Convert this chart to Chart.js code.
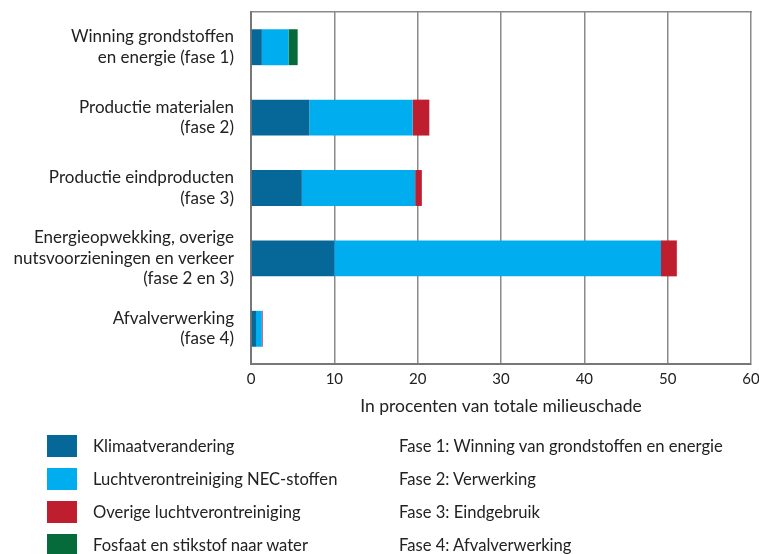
<html>
	<head>
		<meta charset="UTF-8">
		<title> Milieuschade per fase </title>
		<script src="https://cdn.jsdelivr.net/npm/chart.js@4/dist/chart.umd.min.js"></script>
		<style>
			body { margin:0; background:#fff; font-family:Lato, sans-serif; color:#222; }
			#wrap { position:relative; width:759px; height:554px; }
			#barChart { position:absolute; left:0; top:0; }
			#legend div { position:absolute; font-size:16.6px; line-height:22px; white-space:nowrap; }
			#legend span { position:absolute; left:0; top:0; width:30px; height:22px; }
		</style>
	</head>

	<body>
		<div id="wrap">
			<canvas id="barChart" width="759" height="554"></canvas>
			<div id="legend"></div>
		</div>

		<script>
			// categories (y axis), top to bottom
			var categories = [
				["Winning grondstoffen", "en energie (fase 1)"],
				["Productie materialen", "(fase 2)"],
				["Productie eindproducten", "(fase 3)"],
				["Energieopwekking, overige", "nutsvoorzieningen en verkeer", "(fase 2 en 3)"],
				["Afvalverwerking", "(fase 4)"]
			];

			// series values, percent of total environmental damage
			var klimaat = [1.3, 7.0, 6.1, 10.0, 0.6];
			var luchtNec = [3.2, 12.4, 13.6, 39.2, 0.7];
			var overigLucht = [0, 2.0, 0.8, 1.9, 0.1];
			var fosfaat = [1.1, 0, 0, 0, 0];

			var seriesNames = ["Klimaatverandering", "Luchtverontreiniging NEC-stoffen", "Overige luchtverontreiniging", "Fosfaat en stikstof naar water"];
			var seriesColors = ["#066898", "#00aeef", "#be1e2d", "#066b3a"];
			var faseNotes = ["Fase 1: Winning van grondstoffen en energie", "Fase 2: Verwerking", "Fase 3: Eindgebruik", "Fase 4: Afvalverwerking"];

			var xTicks = [0, 10, 20, 30, 40, 50, 60];
			var xTitle = "In procenten van totale milieuschade";

			var seriesData = [klimaat, luchtNec, overigLucht, fosfaat];
			var sets = [];
			for (var i = 0; i < seriesData.length; i++) {
				sets.push({
					label: seriesNames[i],
					data: seriesData[i],
					backgroundColor: seriesColors[i],
					borderWidth: 0,
					categoryPercentage: 1,
					barPercentage: 0.51
				});
			}

			Chart.defaults.font.family = "Lato, sans-serif";
			Chart.defaults.color = "#222";

			var ctx = document.getElementById("barChart").getContext('2d');
			var myChart = new Chart(ctx, {
				type: 'bar',
				data: { labels: categories, datasets: sets },
				options: {
					indexAxis: 'y',
					responsive: false,
					animation: false,
					layout: { padding: { top: 0, right: 8, bottom: 134, left: 0 } },
					plugins: { legend: { display: false }, tooltip: { enabled: false } },
					scales: {
						x: {
							stacked: true,
							min: 0,
							max: 60,
							afterBuildTicks: function(s) { s.ticks = xTicks.map(function(v) { return {value: v}; }); },
							afterFit: function(s) { s.height = 56; s.paddingLeft = 0; s.paddingRight = 0; },
							ticks: { font: { size: 15 }, color: "#222", padding: 6, autoSkip: false, maxRotation: 0 },
							grid: { color: "#8a8a8a", lineWidth: 1.5, drawTicks: false },
							border: { color: "#777", width: 2 },
							title: { display: true, text: xTitle, font: { size: 17.5 }, color: "#222", padding: { top: 4, bottom: 3 } }
						},
						x2: {
							position: 'top',
							min: 0,
							max: 60,
							afterFit: function(s) { s.height = 12; s.paddingLeft = 0; s.paddingRight = 0; },
							ticks: { display: false },
							grid: { display: false, drawTicks: false },
							border: { color: "#8a8a8a", width: 1.5 }
						},
						y: {
							stacked: true,
							afterFit: function(s) { s.width = 251; s.paddingTop = 0; s.paddingBottom = 0; },
							ticks: { font: { size: 17, lineHeight: 1.2 }, color: "#222", padding: 17, autoSkip: false },
							grid: { display: false, drawTicks: false },
							border: { color: "#777", width: 2 }
						}
					}
				}
			});

			// legend below the chart
			var legend = document.getElementById("legend");
			for (var j = 0; j < seriesNames.length; j++) {
				var rowTop = 435 + j * 33;
				var item = document.createElement("div");
				item.style.left = "47px";
				item.style.top = rowTop + "px";
				item.style.paddingLeft = "46px";
				item.innerHTML = '<span style="background:' + seriesColors[j] + '"></span>' + seriesNames[j];
				legend.appendChild(item);

				var note = document.createElement("div");
				note.style.left = "399px";
				note.style.top = rowTop + "px";
				note.textContent = faseNotes[j];
				legend.appendChild(note);
			}
		</script>
	</body>
</html>
